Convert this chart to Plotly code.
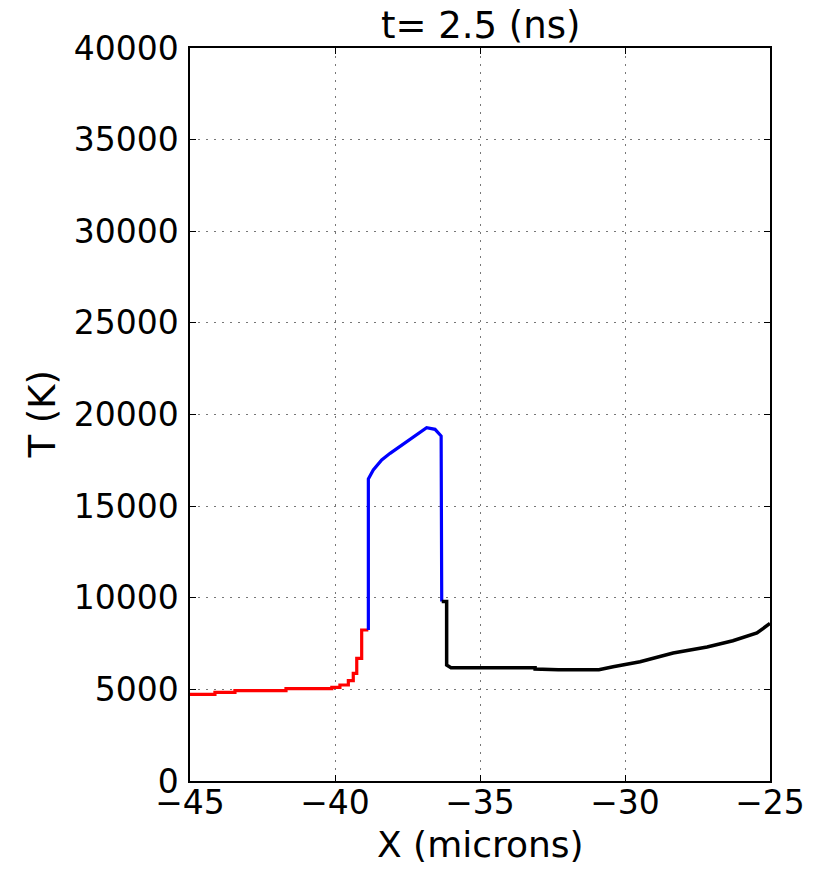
import plotly.graph_objects as go

# Data
red_x = [-45.0, -44.14, -43.45, -41.69, -40.11, -39.83, -39.54, -39.37, -39.25, -39.08, -38.85]
red_y = [4730, 4840, 4930, 5040, 5110, 5240, 5475, 5876, 6695, 8240, 8240]

blue_x = [-38.85, -38.85, -38.68, -38.39, -38.10, -37.53, -37.07, -36.84, -36.55, -36.34, -36.32]
blue_y = [8240, 16480, 16970, 17517, 17880, 18517, 19062, 19280, 19190, 18826, 9790]

black_x = [-36.32, -36.15, -36.15, -36.0, -33.1, -33.1, -32.3, -30.9, -30.41, -29.48, -28.34, -27.17, -26.28, -25.45, -25.0]
black_y = [9790, 9790, 6330, 6185, 6185, 6112, 6074, 6074, 6237, 6510, 6985, 7312, 7656, 8076, 8600]

x_ticks = [-45, -40, -35, -30, -25]
y_ticks = [0, 5000, 10000, 15000, 20000, 25000, 30000, 35000, 40000]

FONT = "DejaVu Sans"
fig = go.Figure()
fig.add_trace(go.Scatter(x=red_x, y=red_y, mode="lines", line=dict(color="#ff0000", width=3.2, shape="hv")))
fig.add_trace(go.Scatter(x=blue_x, y=blue_y, mode="lines", line=dict(color="#0000ff", width=3.2)))
fig.add_trace(go.Scatter(x=black_x, y=black_y, mode="lines", line=dict(color="#000000", width=3.5)))

axis_common = dict(
    showline=True, linecolor="black", linewidth=1.5, mirror="ticks",
    ticks="inside", ticklen=6, tickcolor="black", tickwidth=1,
    showgrid=True, gridcolor="#777777", griddash="2px,6px", gridwidth=1,
    zeroline=False, tickfont=dict(family=FONT, size=33, color="black"),
)
fig.update_xaxes(range=[-45, -25], tickvals=x_ticks, ticklabelstandoff=-8, **axis_common)
fig.update_yaxes(range=[0, 40000], tickvals=y_ticks, tickformat="d", ticklabelstandoff=3, **axis_common)

fig.update_layout(
    width=819, height=869,
    margin=dict(l=190, r=49, t=48, b=88),
    plot_bgcolor="white", paper_bgcolor="white",
    showlegend=False,
    annotations=[
        dict(text="t= 2.5 (ns)", xref="paper", yref="paper", x=0.5, y=1, yanchor="middle",
             yshift=23, showarrow=False, font=dict(family=FONT, size=37, color="black")),
        dict(text="X (microns)", xref="paper", yref="paper", x=0.5, y=0, yanchor="middle",
             yshift=-63, showarrow=False, font=dict(family=FONT, size=36, color="black")),
        dict(text="T (K)", xref="paper", yref="paper", x=0, y=0.5, xanchor="center",
             xshift=-148, textangle=-90, showarrow=False, font=dict(family=FONT, size=37, color="black")),
    ],
)
fig.write_html("out.html")
